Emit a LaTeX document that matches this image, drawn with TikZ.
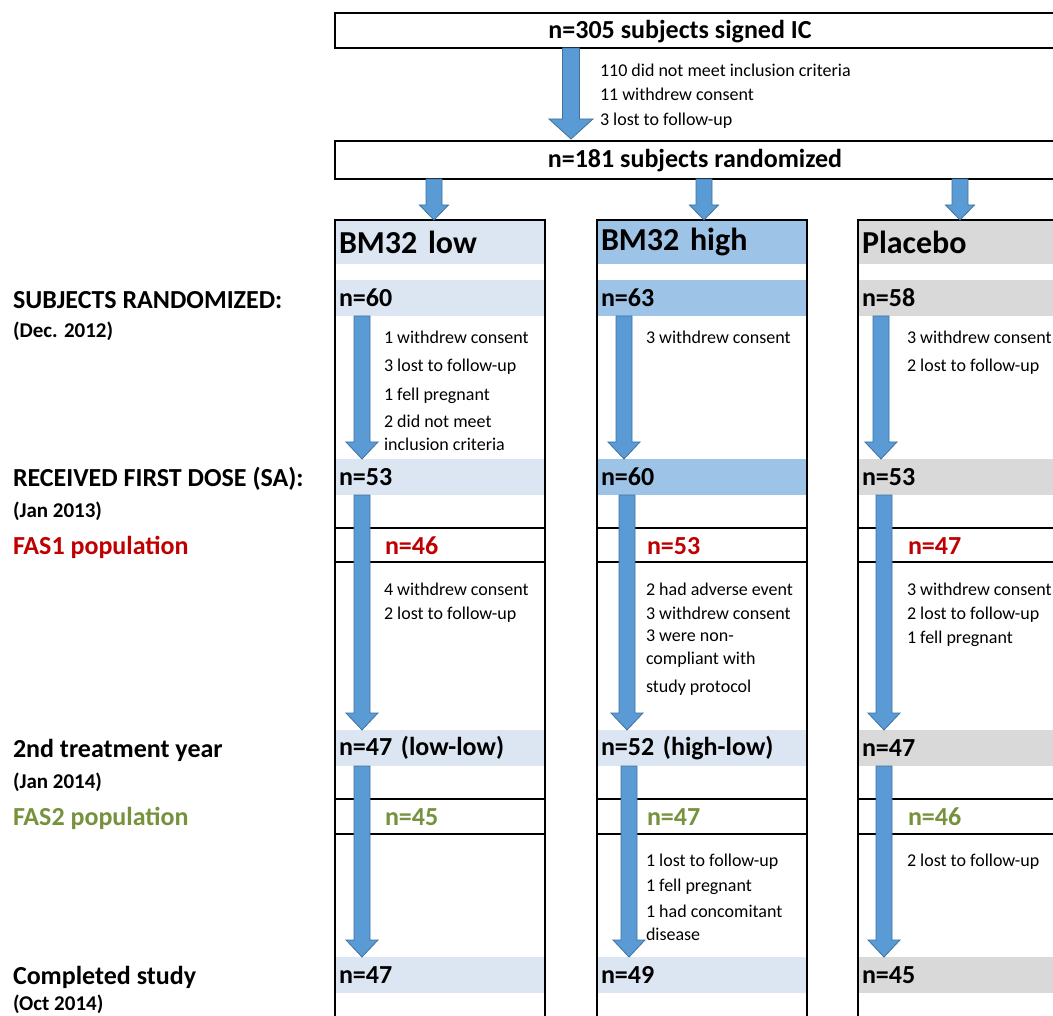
\documentclass[tikz,border=0pt]{standalone}
\usepackage{fontspec}
\setmainfont{Carlito}
\usepackage{tikz}
\usetikzlibrary{calc}

\definecolor{lowfill}{RGB}{220,230,242}
\definecolor{highfill}{RGB}{157,195,230}
\definecolor{placfill}{RGB}{217,217,217}
\definecolor{arrowfill}{RGB}{91,155,213}
\definecolor{arrowedge}{RGB}{65,113,156}
\definecolor{fasred}{RGB}{192,0,0}
\definecolor{fasgreen}{RGB}{118,146,60}

% block arrows: shaft half width, head half width, head length
\tikzset{
  blockarrow/.style n args={3}{draw=arrowedge, fill=arrowfill, line width=0.8pt,
    to path={let \p1=(\tikztostart), \p2=(\tikztotarget) in
      (\x1-#1,\y1) -- (\x1+#1,\y1) -- (\x1+#1,\y2+#3) -- (\x1+#2,\y2+#3)
      -- (\x1,\y2) -- (\x1-#2,\y2+#3) -- (\x1-#1,\y2+#3) -- cycle}},
  bigarrow/.style={blockarrow={8.5pt}{22pt}{20pt}},
  smallarrow/.style={blockarrow={8pt}{14.5pt}{15pt}},
  colarrow/.style={blockarrow={8pt}{16pt}{17pt}}
}

\begin{document}
\begin{tikzpicture}[x=1pt,y=-1pt]
\useasboundingbox[fill=white] (0,0) rectangle (1053,1016);
% Default actions for each node
\tikzstyle{every node}=[inner sep=0pt, outer sep=0pt]
\tikzstyle{topbox} = [draw, line width=1.8pt, anchor=north west, minimum width=740pt]
\tikzstyle{headband} = [anchor=north west, minimum height=44pt, text width=202pt, inner xsep=4pt, align=left, font=\bfseries\fontsize{32}{36}\selectfont]
\tikzstyle{nband} = [anchor=north west, minimum height=36pt, text width=202pt, inner xsep=4pt, align=left, font=\bfseries\fontsize{26}{30}\selectfont]
\tikzstyle{colframe} = [draw, line width=1.8pt, anchor=north west, minimum width=210pt, minimum height=820pt]
\tikzstyle{divider} = [draw, line width=1.8pt]
\tikzstyle{bignum} = [font=\bfseries\fontsize{26}{30}\selectfont]
\tikzstyle{fasnum} = [anchor=west, font=\bfseries\fontsize{26}{30}\selectfont]
\tikzstyle{dropnote} = [anchor=west, text height=15pt, text depth=2pt, font=\fontsize{18}{22}\selectfont]
\tikzstyle{stagelabel} = [anchor=west, font=\bfseries\fontsize{26}{30}\selectfont]
\tikzstyle{datelabel} = [anchor=west, font=\bfseries\fontsize{21}{24}\selectfont]

% Stage labels on the left
\node[stagelabel] (stage1) at (13,300) {SUBJECTS RANDOMIZED:};
\node[datelabel] (date1) at (13,331) {(Dec. 2012)};
\node[stagelabel] (stage2) at (13,479) {RECEIVED FIRST DOSE (SA):};
\node[datelabel] (date2) at (13,511) {(Jan 2013)};
\node[stagelabel, text=fasred] (fas1) at (13,547) {FAS1 population};
\node[stagelabel] (stage3) at (13,750) {2nd treatment year};
\node[datelabel] (date3) at (13,782) {(Jan 2014)};
\node[stagelabel, text=fasgreen] (fas2) at (13,818) {FAS2 population};
\node[stagelabel] (stage4) at (13,977) {Completed study};
\node[datelabel] (date4) at (13,1004) {(Oct 2014)};

% Screening boxes
\node[topbox, minimum height=35pt] (signed) at (335,13) {};
\node[bignum] (signedtext) at (680,32) {n=305 subjects signed IC};
\node[topbox, minimum height=38pt] (random) at (335,141) {};
\node[bignum] (randomtext) at (695,161) {n=181 subjects randomized};
\node[dropnote] (scr1) at (600,70) {110 did not meet inclusion criteria};
\node[dropnote] (scr2) at (600,94) {11 withdrew consent};
\node[dropnote] (scr3) at (600,119) {3 lost to follow-up};

% BM32 low column
\node[headband, fill=lowfill] (lowhead) at (335,220) {BM32 low};
\node[nband, fill=lowfill] (low1) at (335,280) {n=60};
\node[nband, fill=lowfill] (low2) at (335,459) {n=53};
\node[nband, fill=lowfill] (low3) at (335,730) {n=47 (low-low)};
\node[nband, fill=lowfill] (low4) at (335,957) {n=47};
\node[colframe] (lowcol) at (335,220) {};
\draw[divider] (335,528) -- (545,528) (335,562) -- (545,562);
\draw[divider] (335,799) -- (545,799) (335,834) -- (545,834);

% BM32 high column
\node[headband, fill=highfill] (highhead) at (597,220) {BM32 high};
\node[nband, fill=highfill] (high1) at (597,280) {n=63};
\node[nband, fill=highfill] (high2) at (597,459) {n=60};
\node[nband, fill=lowfill] (high3) at (597,730) {n=52 (high-low)};
\node[nband, fill=lowfill] (high4) at (597,957) {n=49};
\node[colframe] (highcol) at (597,220) {};
\draw[divider] (597,528) -- (807,528) (597,562) -- (807,562);
\draw[divider] (597,799) -- (807,799) (597,834) -- (807,834);

% Placebo column
\node[headband, fill=placfill] (plachead) at (858,220) {Placebo};
\node[nband, fill=placfill] (plac1) at (858,280) {n=58};
\node[nband, fill=placfill] (plac2) at (858,459) {n=53};
\node[nband, fill=placfill] (plac3) at (858,730) {n=47};
\node[nband, fill=placfill] (plac4) at (858,957) {n=45};
\node[colframe] (placcol) at (858,220) {};
\draw[divider] (858,528) -- (1070,528) (858,562) -- (1070,562);
\draw[divider] (858,799) -- (1070,799) (858,834) -- (1070,834);

% FAS numbers
\node[fasnum, text=fasred] (lowfas1) at (385,546) {n=46};
\node[fasnum, text=fasred] (highfas1) at (647,546) {n=53};
\node[fasnum, text=fasred] (placfas1) at (908,546) {n=47};
\node[fasnum, text=fasgreen] (lowfas2) at (385,817) {n=45};
\node[fasnum, text=fasgreen] (highfas2) at (647,817) {n=47};
\node[fasnum, text=fasgreen] (placfas2) at (908,817) {n=46};

% Arrows
\coordinate (topx) at (571,0);
\draw[bigarrow] (signed.south -| topx) to ($(random.north -| topx)+(0,-2)$);
\coordinate (lowx) at (434,0);
\coordinate (highx) at (704,0);
\coordinate (placx) at (960,0);
\draw[smallarrow] (random.south -| lowx) to (lowhead.north -| lowx);
\draw[smallarrow] (random.south -| highx) to (highhead.north -| highx);
\draw[smallarrow] (random.south -| placx) to (plachead.north -| placx);
\coordinate (lowa) at (362,0);
\draw[colarrow] (low1.south -| lowa) to (low2.north -| lowa);
\draw[colarrow] (low2.south -| lowa) to (low3.north -| lowa);
\draw[colarrow] (low3.south -| lowa) to (low4.north -| lowa);
\coordinate (higha) at (624,0);
\coordinate (highb) at (627,0);
\coordinate (highc) at (629,0);
\draw[colarrow] (high1.south -| higha) to (high2.north -| higha);
\draw[colarrow] (high2.south -| highb) to (high3.north -| highb);
\draw[colarrow] (high3.south -| highc) to (high4.north -| highc);
\coordinate (placa) at (881,0);
\coordinate (placb) at (884,0);
\draw[colarrow] (plac1.south -| placa) to (plac2.north -| placa);
\draw[colarrow] (plac2.south -| placb) to (plac3.north -| placb);
\draw[colarrow] (plac3.south -| placb) to (plac4.north -| placb);

% Drop-out notes
\node[dropnote] (lowd1) at (384,337) {1 withdrew consent};
\node[dropnote] (lowd2) at (384,365) {3 lost to follow-up};
\node[dropnote] (lowd3) at (384,394) {1 fell pregnant};
\node[dropnote] (lowd4) at (384,421) {2 did not meet};
\node[dropnote] (lowd5) at (384,444) {inclusion criteria};
\node[dropnote] (lowe1) at (384,589) {4 withdrew consent};
\node[dropnote] (lowe2) at (384,613) {2 lost to follow-up};
\node[dropnote] (highd1) at (646,337) {3 withdrew consent};
\node[dropnote] (highe1) at (646,589) {2 had adverse event};
\node[dropnote] (highe2) at (646,613) {3 withdrew consent};
\node[dropnote] (highe3) at (646,635) {3 were non-};
\node[dropnote] (highe4) at (646,658) {compliant with};
\node[dropnote] (highe5) at (646,686) {study protocol};
\node[dropnote] (highf1) at (646,860) {1 lost to follow-up};
\node[dropnote] (highf2) at (646,885) {1 fell pregnant};
\node[dropnote] (highf3) at (646,911) {1 had concomitant};
\node[dropnote] (highf4) at (646,934) {disease};
\node[dropnote] (placd1) at (907,337) {3 withdrew consent};
\node[dropnote] (placd2) at (907,365) {2 lost to follow-up};
\node[dropnote] (place1) at (907,589) {3 withdrew consent};
\node[dropnote] (place2) at (907,613) {2 lost to follow-up};
\node[dropnote] (place3) at (907,637) {1 fell pregnant};
\node[dropnote] (placf1) at (907,860) {2 lost to follow-up};
\end{tikzpicture}
\end{document}
